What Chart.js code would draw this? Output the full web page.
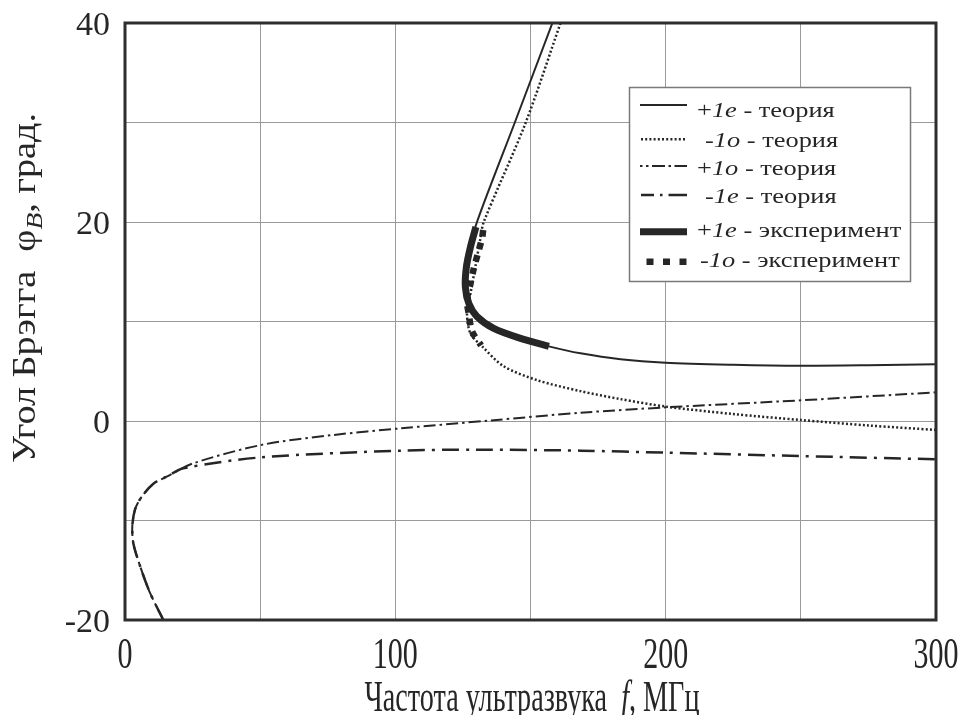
<!DOCTYPE html>
<html><head><meta charset="utf-8">
<script src="https://cdn.jsdelivr.net/npm/chart.js@4/dist/chart.umd.min.js"></script>
<style>html,body{margin:0;padding:0;background:#fff}canvas{display:block}</style>
</head><body>
<canvas id="c" width="964" height="715"></canvas>
<script>
// ---- data ----
const xTickLabels = [0, 100, 200, 300];
const yTickLabels = [-20, 0, 20, 40];
const xTitle = 'Частота ультразвука';
const yTitle = 'Угол Брэгга';

// +1e theory (solid)
const p1eTheoryF   = [158.1, 144.2, 130.2, 127.8, 126.3, 125.9, 127.2, 130.2, 136.4, 146.3, 156.8, 168.5, 183.3, 200, 225, 250, 275, 300];
const p1eTheoryPhi = [40, 30, 20, 17.5, 15.5, 13.5, 11.8, 10.5, 9.3, 8.3, 7.5, 6.8, 6.2, 5.85, 5.65, 5.55, 5.6, 5.7];
// -1o theory (dotted)
const m1oTheoryF   = [161.1, 148.1, 132.7, 131.5, 129.6, 127.8, 126.5, 127.8, 132.1, 140.1, 152.5, 168.5, 183.3, 200, 225, 250, 275, 300];
const m1oTheoryPhi = [40, 29.9, 20, 18.4, 15.5, 12.8, 10.8, 8.8, 7.5, 5.5, 4.1, 3.0, 2.2, 1.45, 0.7, 0.1, -0.45, -0.9];
// +1o theory (dash-dot)
const p1oTheoryF   = [14.2, 9.3, 5.6, 3.1, 2.7, 3.7, 6.2, 10.5, 15.4, 25.3, 50.6, 77.2, 101.9, 135, 168.5, 200, 250, 300];
const p1oTheoryPhi = [-20, -17.3, -14.6, -12.3, -10.6, -8.9, -7.6, -6.3, -5.6, -4.25, -2.4, -1.4, -0.74, 0.05, 0.83, 1.37, 2.08, 2.88];
// -1e theory (long dash-dot)
const m1eTheoryF   = [14.2, 9.3, 5.6, 3.1, 2.7, 3.7, 6.2, 10.5, 15.4, 21.6, 50.6, 101.9, 130, 168.5, 200, 250, 300];
const m1eTheoryPhi = [-20, -17.3, -14.6, -12.3, -10.6, -8.9, -7.6, -6.3, -5.6, -4.75, -3.65, -2.98, -2.88, -2.98, -3.18, -3.52, -3.85];
// +1e experiment (thick solid)
const p1eExpF   = [129.8, 127.8, 126.3, 125.9, 127.2, 130.2, 136.4, 146.3, 156.8];
const p1eExpPhi = [19.5, 17.5, 15.5, 13.5, 11.8, 10.5, 9.3, 8.3, 7.5];
// -1o experiment (thick squares)
const m1oExpF   = [132.5, 132.1, 130.5, 129.0, 127.8, 126.5, 127.2, 128.4, 131.7];
const m1oExpPhi = [19.2, 18.4, 16.8, 15.3, 13.8, 12.2, 10.7, 9.0, 7.6];

const legendLabels = [
  [{t:'+'},{t:'1e',i:true},{t:' - теория'}],
  [{t:'-1o',i:true},{t:' - теория'}],
  [{t:'+'},{t:'1o',i:true},{t:' - теория'}],
  [{t:'-1e',i:true},{t:' - теория'}],
  [{t:'+'},{t:'1e',i:true},{t:' - эксперимент'}],
  [{t:'-1o',i:true},{t:' - эксперимент'}]
];

// ---- helpers ----
const INK = '#262626';
const FONT = '"Liberation Serif", serif';
function pts(fs, ps) { return fs.map((f, k) => ({x: f, y: ps[k]})); }
function fontStr(p, size) { return (p.i ? 'italic ' : '') + size + 'px ' + FONT; }
function partsWidth(ctx, parts, size) {
  let w = 0;
  for (const p of parts) { ctx.font = fontStr(p, (p.s || 1) * size); w += ctx.measureText(p.t).width; }
  return w;
}
function drawParts(ctx, parts, size, o) {
  ctx.save();
  ctx.translate(o.x, o.y);
  if (o.rot) ctx.rotate(o.rot);
  const w = partsWidth(ctx, parts, size);
  const sx = o.width ? o.width / w : (o.sx || 1);
  ctx.scale(sx, o.sy || 1);
  let cx = o.align === 'center' ? -w / 2 : (o.align === 'right' ? -w : 0);
  ctx.textAlign = 'left'; ctx.textBaseline = 'alphabetic'; ctx.fillStyle = INK;
  for (const p of parts) {
    ctx.font = fontStr(p, (p.s || 1) * size);
    ctx.fillText(p.t, cx, p.dy || 0);
    cx += ctx.measureText(p.t).width;
  }
  ctx.restore();
}

const styles = [
  {w: 2,   dash: []},
  {w: 2.5, dash: [2, 2.2]},
  {w: 2,   dash: [12, 4, 2.5, 4]},
  {w: 2.5, dash: [17, 7, 3, 7]},
  {w: 7,   dash: []},
  {w: 6.5, dash: [6.5, 6.5]}
];

const datasets = [
  {data: pts(p1eTheoryF, p1eTheoryPhi), order: 3},
  {data: pts(m1oTheoryF, m1oTheoryPhi), order: 4},
  {data: pts(p1oTheoryF, p1oTheoryPhi), order: 5},
  {data: pts(m1eTheoryF, m1eTheoryPhi), order: 6},
  {data: pts(p1eExpF, p1eExpPhi), order: 1},
  {data: pts(m1oExpF, m1oExpPhi), order: 0}
].map((d, k) => Object.assign(d, {
  showLine: true, pointRadius: 0, fill: false, tension: 0.3,
  borderColor: INK, backgroundColor: INK,
  borderWidth: styles[k].w, borderDash: styles[k].dash,
  borderCapStyle: 'butt', borderJoinStyle: 'round'
}));

const decor = {
  id: 'decor',
  afterDraw(chart) {
    const ctx = chart.ctx, a = chart.chartArea;
    const xs = chart.scales.x, ys = chart.scales.y;
    ctx.save();
    ctx.strokeStyle = '#2e2e2e'; ctx.lineWidth = 3;
    ctx.strokeRect(a.left, a.top, a.right - a.left, a.bottom - a.top);
    ctx.restore();
    for (const v of xTickLabels) {
      drawParts(ctx, [{t: String(v)}], 30, {x: xs.getPixelForValue(v), y: 668, sy: 1.45, align: 'center'});
    }
    for (const v of yTickLabels) {
      drawParts(ctx, [{t: String(v)}], 34, {x: 110, y: ys.getPixelForValue(v) + 12, align: 'right'});
    }
    drawParts(ctx, [{t: xTitle + '  '}, {t: 'f', i: true}, {t: ', МГц'}], 30,
      {x: 532, y: 711, sy: 1.45, width: 335, align: 'center'});
    drawParts(ctx, [{t: yTitle + '  φ'}, {t: 'B', i: true, s: 0.72, dy: 7}, {t: ', град.'}], 33,
      {x: 35, y: 463, rot: -Math.PI / 2, width: 350});
    const bx = 629.5, by = 87.5, bw = 281, bh = 194;
    ctx.save();
    ctx.fillStyle = '#fff'; ctx.fillRect(bx, by, bw, bh);
    ctx.strokeStyle = '#7a7a7a'; ctx.lineWidth = 1.5; ctx.strokeRect(bx, by, bw, bh);
    ctx.restore();
    const textX = [697, 705, 697, 705, 697, 700];
    const base = [117.3, 146.7, 175, 203.3, 236.7, 267.3];
    const lineY = [105, 139.3, 166, 195, 231.7, 261.7];
    const sampleX0 = [640, 641, 640, 641, 640, 646.5];
    const sampleDash = [[], [2, 2.2], [2.5, 3.5, 2.5, 3.5, 13, 3.5, 2.5, 3.5, 13], [13, 6, 2.5, 6, 30], [], [7, 9.5]];
    for (let k = 0; k < legendLabels.length; k++) {
      ctx.save();
      ctx.strokeStyle = INK; ctx.lineWidth = styles[k].w; ctx.lineCap = 'butt';
      ctx.setLineDash(sampleDash[k]);
      ctx.beginPath(); ctx.moveTo(sampleX0[k], lineY[k]); ctx.lineTo(687, lineY[k]); ctx.stroke();
      ctx.restore();
      drawParts(ctx, legendLabels[k], 22, {x: textX[k], y: base[k], sx: 1.2});
    }
  }
};

new Chart(document.getElementById('c'), {
  type: 'scatter',
  data: {datasets},
  options: {
    responsive: false, animation: false, devicePixelRatio: 1,
    layout: {padding: {top: 23, right: 28, left: 0, bottom: 0}},
    plugins: {legend: {display: false}, tooltip: {enabled: false}},
    scales: {
      x: {
        type: 'linear', min: 0, max: 300,
        ticks: {stepSize: 50, display: false},
        grid: {color: '#9a9a9a', lineWidth: 1, drawTicks: false},
        border: {display: false},
        afterFit(s) { s.height = 95; }
      },
      y: {
        type: 'linear', min: -20, max: 40,
        ticks: {stepSize: 10, display: false},
        grid: {color: '#9a9a9a', lineWidth: 1, drawTicks: false},
        border: {display: false},
        afterFit(s) { s.width = 125; }
      }
    }
  },
  plugins: [decor]
});
</script>
</body></html>
